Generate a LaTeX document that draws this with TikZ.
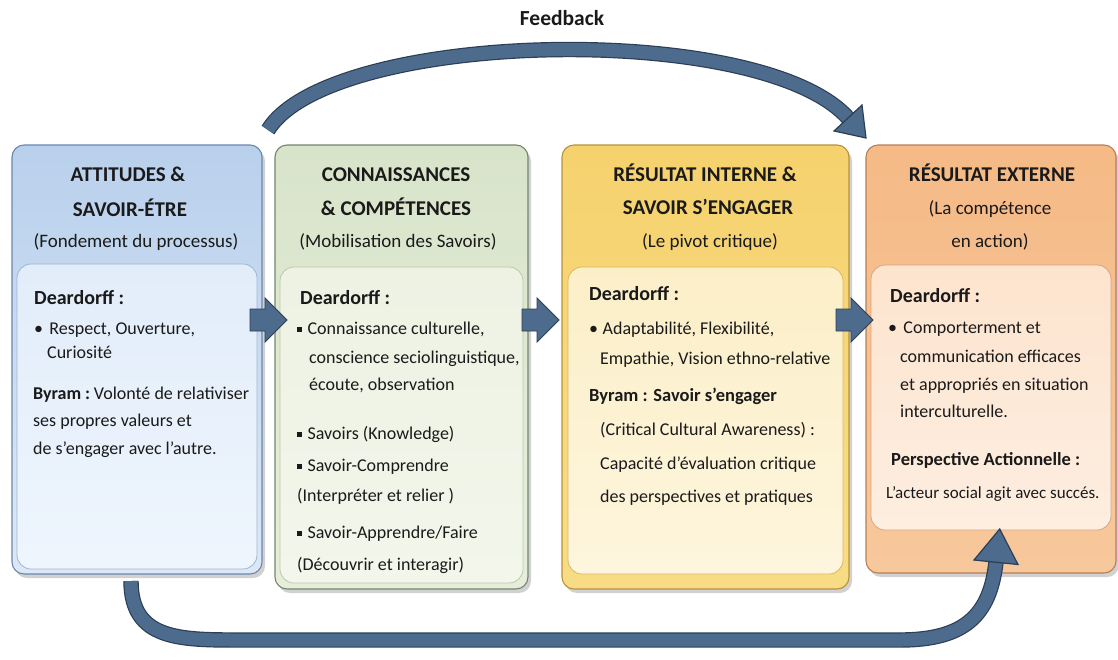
\documentclass[tikz,border=0pt]{standalone}
\usepackage{fontspec}
\setmainfont{Carlito}
\usetikzlibrary{shadows,calc}
\definecolor{textc}{HTML}{1A1A1A}
\definecolor{arrowc}{HTML}{4D6B8C}
\definecolor{arrowd}{HTML}{2C3E55}
\definecolor{bluetop}{HTML}{B9D0EC}
\definecolor{bluebot}{HTML}{DCE8F7}
\definecolor{bluedraw}{HTML}{6A87AE}
\definecolor{blueintop}{HTML}{E2EDFA}
\definecolor{blueinbot}{HTML}{EEF5FD}
\definecolor{blueindraw}{HTML}{9DB6D4}
\definecolor{greentop}{HTML}{D8E4CA}
\definecolor{greenbot}{HTML}{E6EEDB}
\definecolor{greendraw}{HTML}{74866A}
\definecolor{greenintop}{HTML}{EDF2E3}
\definecolor{greeninbot}{HTML}{F3F6EB}
\definecolor{greenindraw}{HTML}{BCC9A9}
\definecolor{yeltop}{HTML}{F6D26E}
\definecolor{yelbot}{HTML}{F8DC85}
\definecolor{yeldraw}{HTML}{B8923A}
\definecolor{yelintop}{HTML}{FCEFC8}
\definecolor{yelinbot}{HTML}{FDF5DD}
\definecolor{yelindraw}{HTML}{D9B95E}
\definecolor{ortop}{HTML}{F5BA86}
\definecolor{orbot}{HTML}{F7C89C}
\definecolor{ordraw}{HTML}{B57F58}
\definecolor{orintop}{HTML}{FDE4CE}
\definecolor{orinbot}{HTML}{FDEEE1}
\definecolor{orindraw}{HTML}{D9A47F}
\tikzset{
  outerbox/.style={draw, rounded corners=12pt, line width=1.1pt,
    drop shadow={shadow xshift=3pt, shadow yshift=-4pt, opacity=0.18, fill=black}},
  innerbox/.style={draw, rounded corners=14pt, line width=0.8pt},
  txt/.style={anchor=base west, inner sep=0pt, text=textc, font=\fontsize{18}{21}\selectfont},
  smalltxt/.style={txt, font=\fontsize{17}{20}\selectfont},
  head/.style={txt, font=\fontsize{20}{24}\selectfont\bfseries},
  headb/.style={txt, font=\fontsize{18.5}{22}\selectfont\bfseries},
  ttl/.style={anchor=base, inner sep=0pt, text=textc, font=\fontsize{21}{25}\selectfont\bfseries},
  sub/.style={anchor=base, inner sep=0pt, text=textc, font=\fontsize{19}{23}\selectfont},
  barrow/.style={fill=arrowc, draw=arrowd, line width=0.9pt, line join=miter},
  curvearrow/.style={draw=arrowd, double=arrowc, double distance=13pt, line width=1.2pt},
  arrowhead/.style={fill=arrowc, draw=arrowd, line width=1.2pt, line join=miter}
}
\newcommand{\sqb}{\raisebox{0.28ex}{\rule{0.28em}{0.28em}}\hspace{0.3em}}
\begin{document}
\begin{tikzpicture}[x=1pt,y=-1pt]
\useasboundingbox (0,0) rectangle (1118,659);
\fill[white] (0,0) rectangle (1118,659);

% outer boxes
\node[outerbox, draw=bluedraw, top color=bluetop, bottom color=bluebot, minimum width=250pt, minimum height=429pt] (b1) at (137,359.5) {};
\node[outerbox, draw=greendraw, top color=greentop, bottom color=greenbot, minimum width=253pt, minimum height=444pt] (b2) at (401.5,367) {};
\node[outerbox, draw=yeldraw, top color=yeltop, bottom color=yelbot, minimum width=287pt, minimum height=444pt] (b3) at (705.5,367) {};
\node[outerbox, draw=ordraw, top color=ortop, bottom color=orbot, minimum width=250pt, minimum height=428pt] (b4) at (991,359) {};

% inner boxes
\node[innerbox, draw=blueindraw, top color=blueintop, bottom color=blueinbot, minimum width=240pt, minimum height=305pt] (i1) at (137,416.5) {};
\node[innerbox, draw=greenindraw, top color=greenintop, bottom color=greeninbot, minimum width=243pt, minimum height=316pt] (i2) at (401.5,425) {};
\node[innerbox, draw=yelindraw, top color=yelintop, bottom color=yelinbot, minimum width=275pt, minimum height=307pt] (i3) at (705.5,420.5) {};
\node[innerbox, draw=orindraw, top color=orintop, bottom color=orinbot, minimum width=240pt, minimum height=265pt] (i4) at (991,397.5) {};

% box 1 text
\node[ttl] (t1a) at (128,181) {ATTITUDES \&};
\node[ttl] (t1b) at (130,216) {SAVOIR-ÉTRE};
\node[sub] (t1c) at (136,247) {(Fondement du processus)};
\node[head] (t1d) at (34,304) {Deardorff :};
\node[txt] (t1e) at (34,334) {•\hspace{0.35em}Respect, Ouverture,};
\node[txt] (t1f) at (47,358) {Curiosité};
\node[txt] (t1g) at (33,399) {\textbf{Byram :}\hspace{0.2em}Volonté de relativiser};
\node[txt] (t1h) at (33,426) {ses propres valeurs et};
\node[txt] (t1i) at (33,454) {de s’engager avec l’autre.};

% box 2 text
\node[ttl] (t2a) at (396,181) {CONNAISSANCES};
\node[ttl] (t2b) at (396,215) {\& COMPÉTENCES};
\node[sub] (t2c) at (398,247) {(Mobilisation des Savoirs)};
\node[head] (t2d) at (300,304) {Deardorff :};
\node[txt] (t2e) at (297,334) {\sqb Connaissance culturelle,};
\node[txt] (t2f) at (309,363) {conscience seciolinguistique,};
\node[txt] (t2g) at (309,390) {écoute, observation};
\node[txt] (t2h) at (297,439) {\sqb Savoirs (Knowledge)};
\node[txt] (t2i) at (297,471) {\sqb Savoir-Comprendre};
\node[txt] (t2j) at (297,501) {(Interpréter et relier )};
\node[txt] (t2k) at (297,538) {\sqb Savoir-Apprendre/Faire};
\node[txt] (t2l) at (297,570) {(Découvrir et interagir)};

% box 3 text
\node[ttl] (t3a) at (705,181) {RÉSULTAT INTERNE \&};
\node[ttl] (t3b) at (708,214) {SAVOIR S’ENGAGER};
\node[sub] (t3c) at (710,247) {(Le pivot critique)};
\node[head] (t3d) at (589,300) {Deardorff :};
\node[txt] (t3e) at (589,334) {•\hspace{0.25em}Adaptabilité, Flexibilité,};
\node[txt] (t3f) at (600,364) {Empathie, Vision ethno-relative};
\node[headb] (t3g) at (589,401) {Byram : Savoir s’engager};
\node[txt] (t3h) at (600,435) {(Critical Cultural Awareness) :};
\node[txt] (t3i) at (600,469) {Capacité d’évaluation critique};
\node[txt] (t3j) at (600,502) {des perspectives et pratiques};

% box 4 text
\node[ttl] (t4a) at (992,181) {RÉSULTAT EXTERNE};
\node[sub] (t4b) at (990,214) {(La compétence};
\node[sub] (t4c) at (990,247) {en action)};
\node[head] (t4d) at (890,302) {Deardorff :};
\node[txt] (t4e) at (888,333) {•\hspace{0.35em}Comporterment et};
\node[txt] (t4f) at (900,362) {communication efficaces};
\node[txt] (t4g) at (900,390) {et appropriés en situation};
\node[txt] (t4h) at (900,417) {interculturelle.};
\node[headb] (t4i) at (891,465) {Perspective Actionnelle :};
\node[smalltxt] (t4j) at (886,498) {L’acteur social agit avec succés.};

% block arrows between boxes
\coordinate (a1) at (250,320);
\coordinate (a2) at (522,320);
\coordinate (a3) at (836,320);
\foreach \c in {a1,a2,a3}{
  \draw[barrow] (\c) -- ++(0,-11) -- ++(15,0) -- ++(0,-11) -- ++(22,22) -- ++(-22,22) -- ++(0,-11) -- ++(-15,0) -- cycle;
}

% feedback arrow
\node[inner sep=0pt, text=textc, font=\fontsize{21.5}{25}\selectfont\bfseries] (fb) at (562,18) {Feedback};
\coordinate (fs) at (268,130);
\coordinate (fe) at (848,118);
\draw[curvearrow] (fs) .. controls (330,30) and (760,20) .. (fe);
\draw[arrowhead] (834,131) -- (866,138) -- (862,105) -- cycle;

% bottom arrow
\coordinate (bs) at (131,581);
\coordinate (bm1) at (240,640);
\coordinate (bm2) at (900,640);
\coordinate (be) at (996,562);
\draw[curvearrow] (bs) .. controls (131,640) and (180,640) .. (bm1) -- (bm2) .. controls (965,640) and (990,615) .. (be);
\draw[arrowhead] (974,560) -- (999.7,529) -- (1018,564.5) -- cycle;
\end{tikzpicture}
\end{document}
